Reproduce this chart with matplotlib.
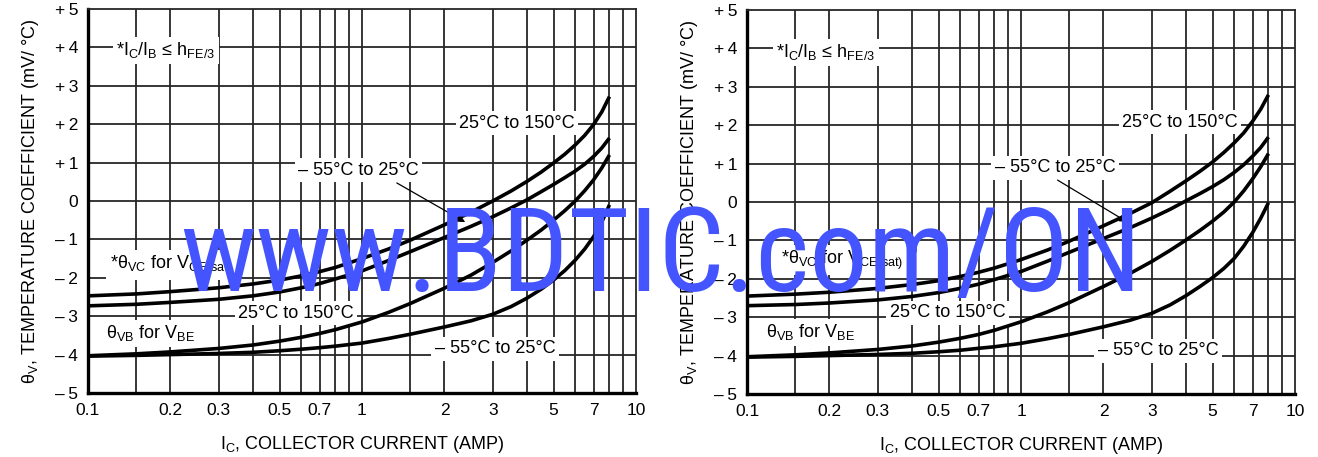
import matplotlib
matplotlib.use('Agg')
import matplotlib.pyplot as plt
from matplotlib import font_manager as fm
from matplotlib.font_manager import FontProperties


def pick(fams, default='DejaVu Sans'):
    for f in fams:
        try:
            fm.findfont(FontProperties(family=f), fallback_to_default=False)
            return f
        except Exception:
            pass
    return default


MAIN = pick(['Liberation Sans', 'Arial'])
NARROW = pick(['Liberation Sans Narrow', 'Roboto Condensed'], MAIN)
plt.rcParams['font.family'] = [MAIN, 'DejaVu Sans']

# ---------------- data ----------------
ic = [0.1, 0.15, 0.2, 0.3, 0.4, 0.5, 0.6, 0.7, 0.8, 1.0, 1.25, 1.5, 2, 2.5, 3, 3.5, 4, 4.5, 5, 5.5, 6, 6.5, 7, 7.5, 8]

# left chart
vc_hot_L = [-2.47, -2.42, -2.36, -2.26, -2.16, -2.06, -1.95, -1.84, -1.73, -1.50, -1.25, -1.02, -0.62, -0.29, 0.00,
            0.26, 0.51, 0.75, 0.99, 1.22, 1.46, 1.71, 1.99, 2.32, 2.72]
vc_cold_L = [-2.73, -2.69, -2.64, -2.56, -2.47, -2.37, -2.26, -2.15, -2.03, -1.82, -1.55, -1.32, -0.95, -0.66, -0.41,
             -0.18, 0.03, 0.24, 0.43, 0.61, 0.78, 0.96, 1.16, 1.38, 1.64]
vb_hot_L = [-4.03, -3.98, -3.93, -3.84, -3.75, -3.65, -3.55, -3.45, -3.35, -3.15, -2.90, -2.67, -2.27, -1.93, -1.60,
            -1.30, -1.02, -0.76, -0.50, -0.25, 0.00, 0.27, 0.55, 0.86, 1.20]
vb_cold_L = [-4.04, -4.02, -4.00, -3.97, -3.94, -3.90, -3.86, -3.82, -3.78, -3.70, -3.58, -3.47, -3.28, -3.12, -2.95,
             -2.75, -2.53, -2.30, -2.06, -1.81, -1.54, -1.25, -0.93, -0.55, -0.10]

# right chart
vc_hot_R = [-2.45, -2.40, -2.35, -2.25, -2.15, -2.05, -1.94, -1.83, -1.72, -1.50, -1.25, -1.02, -0.62, -0.30, -0.02,
            0.28, 0.55, 0.80, 1.04, 1.29, 1.54, 1.80, 2.10, 2.42, 2.79]
vc_cold_R = [-2.70, -2.67, -2.63, -2.55, -2.46, -2.36, -2.25, -2.14, -2.02, -1.81, -1.54, -1.31, -0.95, -0.67, -0.42,
             -0.19, 0.03, 0.22, 0.40, 0.58, 0.77, 0.97, 1.19, 1.42, 1.69]
vb_hot_R = [-4.03, -3.98, -3.93, -3.84, -3.75, -3.65, -3.55, -3.45, -3.34, -3.12, -2.86, -2.62, -2.20, -1.86, -1.55,
            -1.26, -0.99, -0.74, -0.50, -0.26, 0.00, 0.29, 0.60, 0.92, 1.26]
vb_cold_R = [-4.04, -4.02, -4.00, -3.97, -3.94, -3.90, -3.86, -3.81, -3.77, -3.68, -3.56, -3.45, -3.25, -3.08, -2.90,
             -2.68, -2.44, -2.20, -1.97, -1.73, -1.47, -1.15, -0.80, -0.42, -0.02]

x_ticks = [0.1, 0.2, 0.3, 0.5, 0.7, 1, 2, 3, 5, 7, 10]
x_ticklabels = ['0.1', '0.2', '0.3', '0.5', '0.7', '1', '2', '3', '5', '7', '10']
y_ticks = [5, 4, 3, 2, 1, 0, -1, -2, -3, -4, -5]
y_ticklabels = ['+\u20095', '+\u20094', '+\u20093', '+\u20092', '+\u20091', '0',
                '\u2013\u20091', '\u2013\u20092', '\u2013\u20093', '\u2013\u20094', '\u2013\u20095']
x_grid = [0.15, 0.2, 0.3, 0.4, 0.5, 0.6, 0.7, 0.8, 0.9, 1, 1.5, 2, 3, 4, 5, 6, 7, 8, 9]
y_grid = [-4, -3, -2, -1, 0, 1, 2, 3, 4]

txt_hot = '25\u00b0C to 150\u00b0C'
txt_cold = '\u2013 55\u00b0C to 25\u00b0C'
ylabel = '\u03b8$\\mathregular{_V}$, TEMPERATURE COEFFICIENT (mV/ \u00b0C)'
txt_vc = '*\u03b8$\\mathregular{_{VC}}$ for V$\\mathregular{_{CE(sat)}}$'
txt_vb = '\u03b8$\\mathregular{_{VB}}$ for V$\\mathregular{_{BE}}$'
txt_cond = '*I$\\mathregular{_C}$/I$\\mathregular{_B}$ \u2264 h$\\mathregular{_{FE/3}}$'
xlabel = 'I$\\mathregular{_C}$, COLLECTOR CURRENT (AMP)'

W, H = 1318, 457
fig = plt.figure(figsize=(W / 100, H / 100), dpi=100)
fig.patch.set_facecolor('white')

FS_TICK = 12.5
FS_TXT = 13


def panel(rect, d, pos):
    ax = fig.add_axes(rect)
    ax.set_xscale('log')
    ax.set_xlim(0.1, 10)
    ax.set_ylim(-5, 5)
    for g in x_grid:
        ax.axvline(g, color='#262626', lw=1.3, zorder=1)
    for g in y_grid:
        ax.axhline(g, color='#262626', lw=1.3, zorder=1)
    for ys in d:
        ax.plot(ic, ys, color='black', lw=2.6, zorder=6, solid_capstyle='butt',
                solid_joinstyle='round')
    ax.set_xticks(x_ticks)
    ax.set_xticklabels(x_ticklabels, fontsize=FS_TICK)
    ax.xaxis.set_minor_locator(matplotlib.ticker.NullLocator())
    ax.set_yticks(y_ticks)
    ax.set_yticklabels(y_ticklabels, fontsize=FS_TICK)
    ax.tick_params(length=0, pad=7)
    for s in ['left', 'bottom']:
        ax.spines[s].set_linewidth(2.4)
        ax.spines[s].set_color('black')
    for s in ['top', 'right']:
        ax.spines[s].set_linewidth(1.3)
        ax.spines[s].set_color('#262626')
    ax.set_xlabel(xlabel, fontsize=FS_TXT, labelpad=12)
    ax.set_ylabel(ylabel, fontsize=FS_TXT, labelpad=10)
    box = dict(facecolor='white', edgecolor='none', pad=2.5)
    ax.text(*pos['cond'], txt_cond, ha='left', va='center', fontsize=FS_TXT, bbox=box, zorder=4)
    ax.text(*pos['hot'], txt_hot, ha='center', va='center', fontsize=FS_TXT, bbox=box, zorder=4)
    ax.text(*pos['cold'], txt_cold, ha='center', va='center', fontsize=FS_TXT, bbox=box, zorder=4)
    ax.text(*pos['vc'], txt_vc, ha='left', va='center', fontsize=FS_TXT, bbox=box, zorder=4)
    ax.text(*pos['vb'], txt_vb, ha='left', va='center', fontsize=FS_TXT, bbox=box, zorder=4)
    ax.text(*pos['hot2'], txt_hot, ha='center', va='center', fontsize=FS_TXT, bbox=box, zorder=4)
    ax.text(*pos['cold2'], txt_cold, ha='center', va='center', fontsize=FS_TXT, bbox=box, zorder=4)
    ax.annotate('', xy=pos['arr_to'], xytext=pos['arr_from'],
                arrowprops=dict(arrowstyle='-|>', color='black', lw=0.9,
                                mutation_scale=11, shrinkA=0, shrinkB=0), zorder=7)
    return ax


posL = dict(cond=(0.127, 3.93), hot=(3.68, 2.03), cold=(0.97, 0.8),
            vc=(0.12, -1.67), vb=(0.116, -3.44), hot2=(0.575, -2.92),
            cold2=(3.06, -3.85), arr_from=(1.34, 0.47), arr_to=(2.38, -0.55))
posR = dict(cond=(0.128, 3.9), hot=(3.8, 2.08), cold=(1.33, 0.89),
            vc=(0.133, -1.51), vb=(0.117, -3.39), hot2=(0.54, -2.89),
            cold2=(3.16, -3.88), arr_from=(1.36, 0.57), arr_to=(2.44, -0.52))

panel([88 / W, 1 - 393 / H, 548 / W, 384 / H], [vc_hot_L, vc_cold_L, vb_hot_L, vb_cold_L], posL)
panel([747 / W, 1 - 394 / H, 548 / W, 384 / H], [vc_hot_R, vc_cold_R, vb_hot_R, vb_cold_R], posR)

fig.text(180 / W, 1 - 291 / H, 'www.BDTIC.com/ON', fontsize=84, color='#4455ff',
         family=[NARROW, 'DejaVu Sans'], ha='left', va='baseline', zorder=100)

fig.savefig('out.png', dpi=100, facecolor='white')
